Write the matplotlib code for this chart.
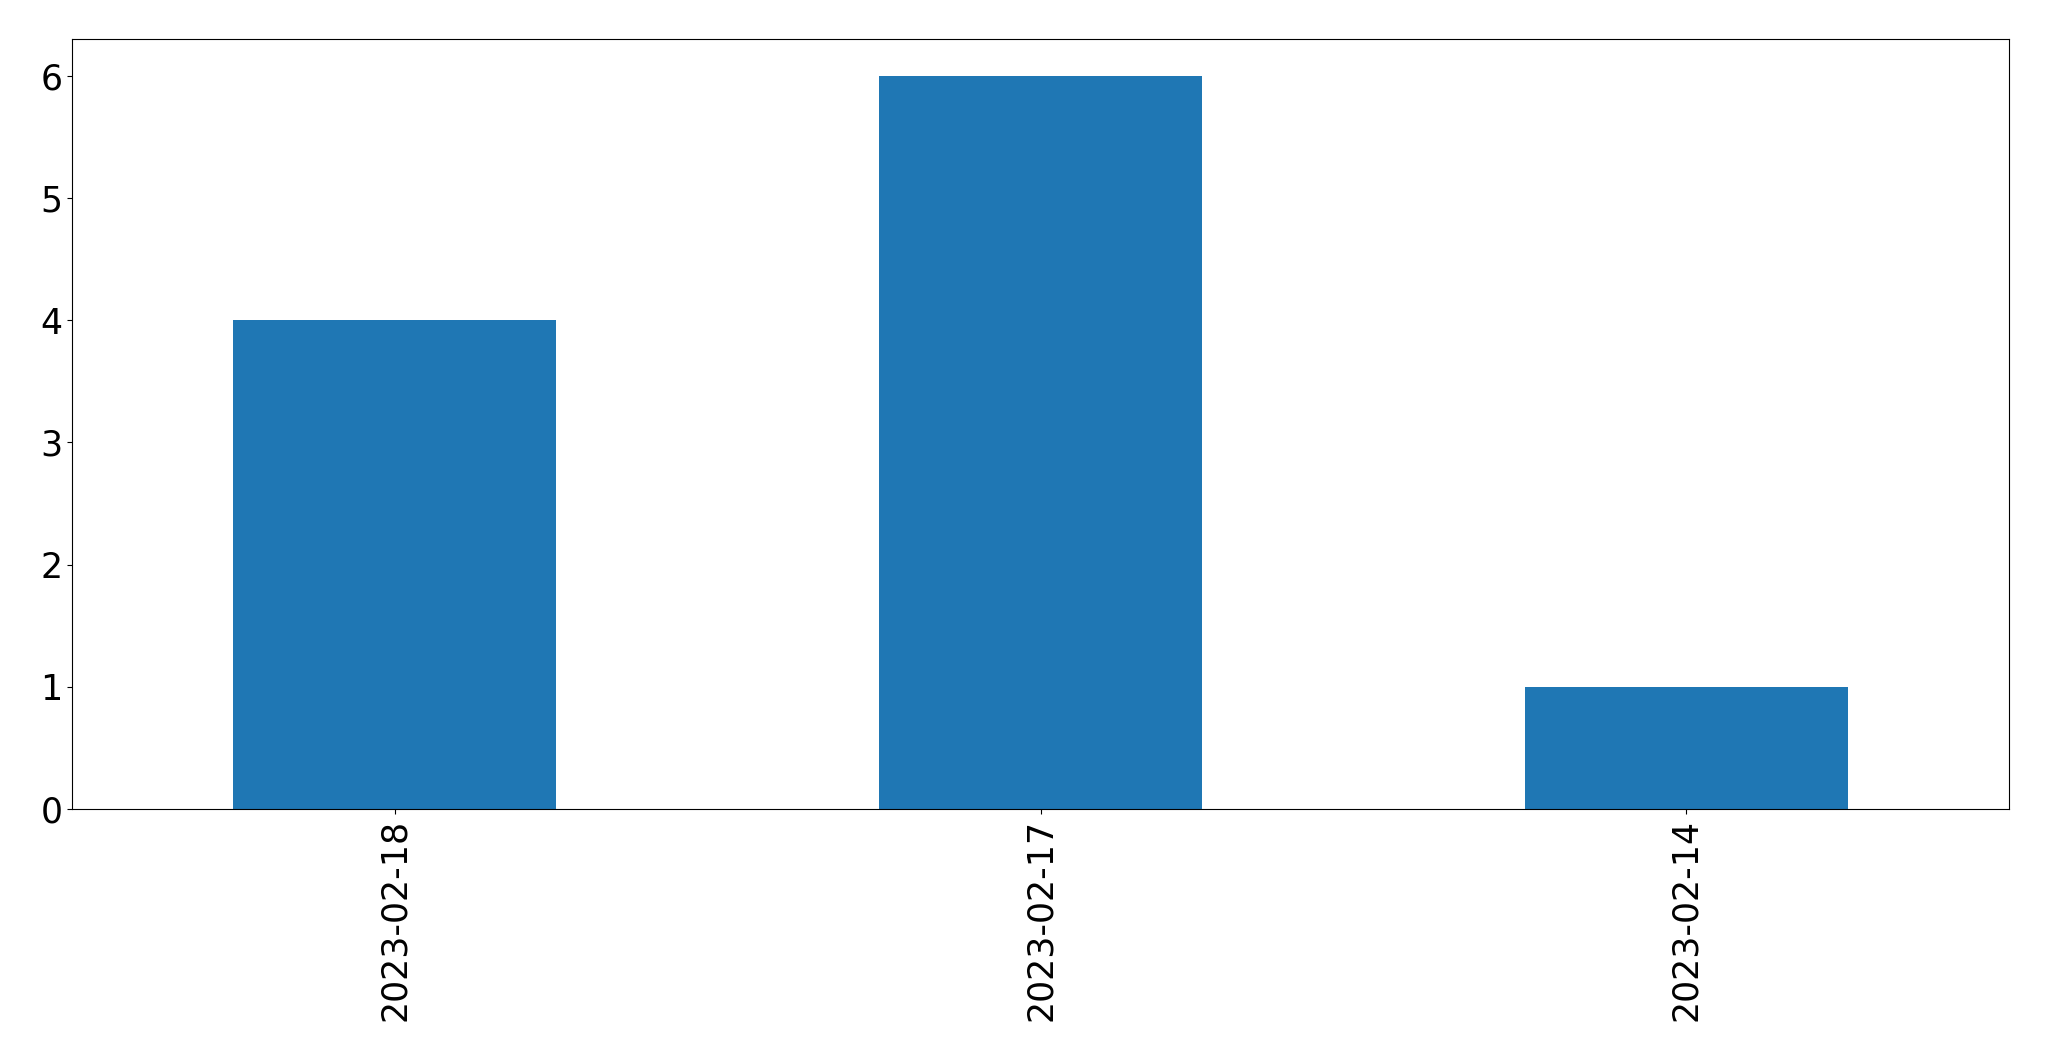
import matplotlib
matplotlib.use("Agg")
import matplotlib.pyplot as plt
import pandas as pd

dates = ["2023-02-18", "2023-02-17", "2023-02-14"]
counts = [4, 6, 1]

fig = plt.figure(figsize=(20.49, 10.61), dpi=100)
ax = fig.add_axes([72/2049, 1 - 809/1061, (2009-72)/2049, (809-39)/1061])
s = pd.Series(counts, index=dates)
s.plot(kind="bar", ax=ax, color="#1f77b4", fontsize=25)
ax.set_yticks(range(0, 7))
fig.savefig("out.png", dpi=100)
